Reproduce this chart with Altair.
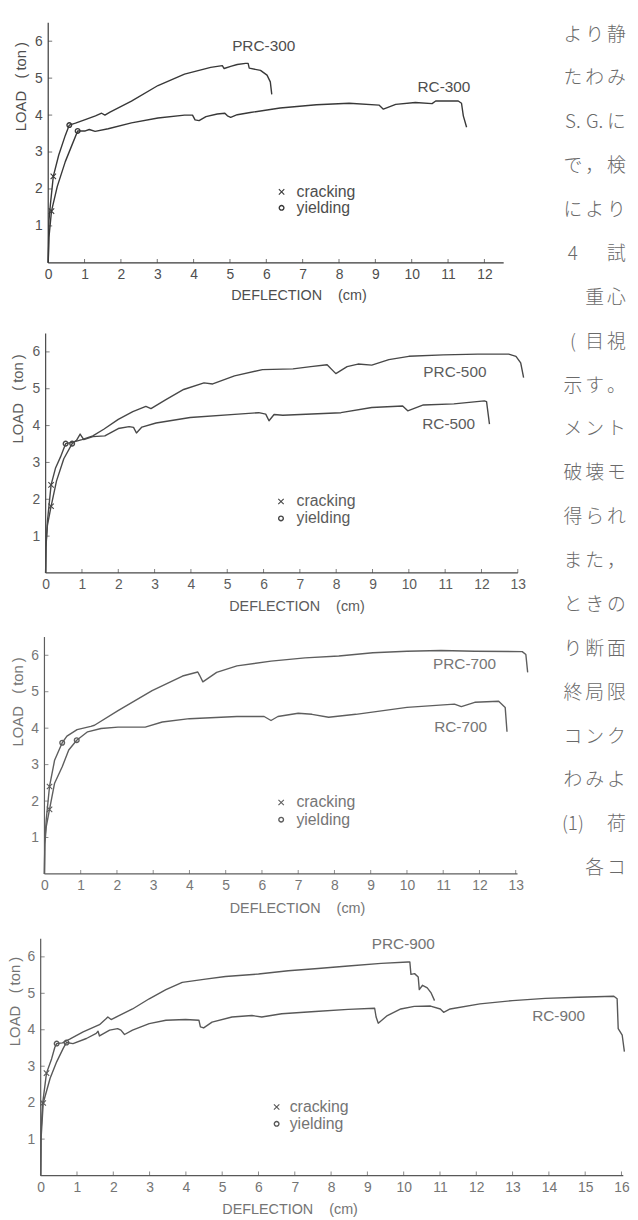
import altair as alt
import pandas as pd

FONT = "Liberation Sans"
JFONT = "Noto Sans CJK JP"

# ---------------- data ----------------
# Panel 1
prc300_x = [0, 0.02, 0.06, 0.14, 0.29, 0.47, 0.58, 0.75, 1.0, 1.3, 1.47, 1.56, 1.7, 2.29, 3.02, 3.75, 4.47, 4.79, 4.84, 5.02, 5.2, 5.43, 5.5, 5.53, 5.84, 6.02, 6.11, 6.15]
prc300_y = [0, 1.14, 1.58, 2.34, 2.92, 3.45, 3.73, 3.78, 3.87, 3.98, 4.05, 4.0, 4.08, 4.38, 4.8, 5.11, 5.29, 5.34, 5.26, 5.32, 5.37, 5.4, 5.4, 5.27, 5.21, 5.08, 4.9, 4.56]
rc300_x = [0, 0.02, 0.09, 0.25, 0.47, 0.65, 0.81, 1.02, 1.13, 1.29, 1.65, 2.29, 3.02, 3.75, 3.97, 4.04, 4.15, 4.34, 4.65, 4.86, 4.93, 5.02, 5.2, 5.56, 6.38, 7.38, 8.28, 9.1, 9.22, 9.56, 10.1, 10.56, 10.66, 11.28, 11.37, 11.42, 11.51]
rc300_y = [0, 0.69, 1.4, 2.07, 2.74, 3.18, 3.57, 3.57, 3.61, 3.56, 3.63, 3.79, 3.92, 4.0, 4.0, 3.87, 3.85, 3.96, 4.03, 4.05, 3.98, 3.94, 4.01, 4.07, 4.19, 4.28, 4.32, 4.27, 4.16, 4.29, 4.34, 4.31, 4.38, 4.38, 4.32, 3.98, 3.67]
crack300 = [(0.14, 2.34), (0.09, 1.4)]
yield300 = [(0.58, 3.73), (0.81, 3.57)]

# Panel 2
prc500_x = [0, 0.01, 0.05, 0.15, 0.27, 0.41, 0.55, 0.75, 1.0, 1.3, 1.6, 2.0, 2.4, 2.76, 2.9, 3.3, 3.8, 4.36, 4.6, 5.2, 5.97, 6.81, 7.3, 7.75, 7.99, 8.3, 8.6, 8.98, 9.45, 10.0, 10.95, 11.9, 12.75, 12.95, 13.08, 13.16]
prc500_y = [0, 0.69, 1.41, 2.39, 2.84, 3.15, 3.51, 3.55, 3.62, 3.72, 3.9, 4.17, 4.38, 4.52, 4.46, 4.7, 4.98, 5.16, 5.13, 5.35, 5.52, 5.54, 5.6, 5.65, 5.41, 5.6, 5.67, 5.64, 5.79, 5.88, 5.92, 5.94, 5.94, 5.88, 5.7, 5.3]
rc500_x = [0, 0.01, 0.05, 0.15, 0.3, 0.5, 0.73, 0.85, 0.95, 1.05, 1.3, 1.63, 2.0, 2.3, 2.42, 2.5, 2.65, 3.04, 3.98, 5.3, 5.87, 6.06, 6.15, 6.29, 6.53, 8.13, 8.98, 9.83, 9.97, 10.4, 11.24, 12.08, 12.14, 12.22]
rc500_y = [0, 0.8, 1.3, 1.81, 2.5, 3.1, 3.51, 3.6, 3.77, 3.62, 3.7, 3.72, 3.92, 3.97, 3.95, 3.8, 3.96, 4.07, 4.22, 4.31, 4.35, 4.31, 4.13, 4.3, 4.28, 4.35, 4.49, 4.53, 4.4, 4.56, 4.59, 4.67, 4.65, 4.04]
crack500 = [(0.15, 2.39), (0.15, 1.81)]
yield500 = [(0.55, 3.51), (0.73, 3.51)]

# Panel 3
prc700_x = [0, 0.01, 0.05, 0.14, 0.28, 0.49, 0.62, 0.9, 1.28, 1.38, 2.03, 2.97, 3.81, 4.23, 4.28, 4.37, 4.75, 5.31, 6.25, 7.19, 8.12, 9.06, 10.0, 10.94, 11.87, 13.18, 13.28, 13.33]
prc700_y = [0, 0.9, 1.5, 2.4, 3.12, 3.6, 3.78, 3.96, 4.05, 4.08, 4.48, 5.03, 5.43, 5.54, 5.45, 5.27, 5.53, 5.71, 5.84, 5.93, 5.98, 6.07, 6.11, 6.13, 6.11, 6.1, 6.02, 5.53]
rc700_x = [0, 0.01, 0.05, 0.14, 0.28, 0.49, 0.67, 0.89, 1.19, 1.56, 2.03, 2.78, 3.25, 4.0, 5.31, 6.06, 6.25, 6.44, 7.0, 7.38, 7.84, 8.59, 10.0, 11.31, 11.5, 11.87, 12.53, 12.71, 12.76]
rc700_y = [0, 0.8, 1.3, 1.77, 2.49, 2.94, 3.4, 3.67, 3.9, 3.99, 4.03, 4.03, 4.17, 4.26, 4.32, 4.32, 4.21, 4.32, 4.41, 4.38, 4.3, 4.38, 4.57, 4.66, 4.59, 4.71, 4.74, 4.57, 3.9]
crack700 = [(0.14, 2.4), (0.14, 1.77)]
yield700 = [(0.49, 3.6), (0.89, 3.67)]

# Panel 4
prc900_x = [0, 0.01, 0.05, 0.16, 0.3, 0.39, 0.44, 0.6, 0.8, 1.17, 1.62, 1.8, 1.85, 1.94, 2.53, 2.99, 3.45, 3.9, 4.54, 5.09, 6.0, 6.82, 7.64, 8.47, 9.38, 10.12, 10.17, 10.2, 10.3, 10.4, 10.43, 10.52, 10.65, 10.75, 10.85]
prc900_y = [0, 1.2, 1.95, 2.81, 3.2, 3.52, 3.62, 3.64, 3.74, 3.94, 4.14, 4.3, 4.35, 4.28, 4.57, 4.85, 5.1, 5.3, 5.39, 5.46, 5.53, 5.62, 5.68, 5.75, 5.82, 5.86, 5.86, 5.52, 5.54, 5.45, 5.1, 5.22, 5.15, 5.02, 4.8]
rc900_x = [0, 0.01, 0.07, 0.26, 0.44, 0.62, 0.71, 0.89, 1.26, 1.53, 1.58, 1.62, 1.9, 2.12, 2.21, 2.31, 2.53, 2.99, 3.45, 3.99, 4.36, 4.4, 4.49, 4.72, 5.27, 5.82, 6.09, 6.64, 7.56, 8.47, 9.2, 9.24, 9.3, 9.55, 9.92, 10.29, 10.74, 11.01, 11.1, 11.28, 12.1, 13.0, 13.9, 14.81, 15.79, 15.88, 15.91, 16.02, 16.08]
rc900_y = [0, 1.0, 1.99, 2.67, 3.12, 3.49, 3.65, 3.62, 3.76, 3.9, 3.96, 3.83, 3.99, 4.03, 3.99, 3.87, 3.99, 4.17, 4.26, 4.28, 4.26, 4.08, 4.05, 4.21, 4.35, 4.39, 4.35, 4.44, 4.5, 4.56, 4.59, 4.35, 4.18, 4.39, 4.57, 4.64, 4.65, 4.57, 4.48, 4.57, 4.71, 4.8, 4.86, 4.89, 4.92, 4.85, 4.03, 3.85, 3.4]
crack900 = [(0.16, 2.81), (0.07, 1.99)]
yield900 = [(0.44, 3.62), (0.71, 3.65)]

y_tick_labels = [1, 2, 3, 4, 5, 6]
x_title = "DEFLECTION\u00a0\u00a0\u00a0\u00a0(cm)"
y_title = "LOAD\u00a0\u00a0\u00a0(\u2009ton\u2009)"
legend_labels = ["cracking", "yielding"]

# Japanese body text in the right column (one list per printed line, 3 character cells)
jp_lines = [
    ["よ", "り", "静"], ["た", "わ", "み"], ["S.", "G.", "に"], ["で", "，", "検"],
    ["に", "よ", "り"], ["4", "", "試"], ["", "重", "心"], ["(", "目", "視"],
    ["示", "す", "。"], ["メ", "ン", "ト"], ["破", "壊", "モ"], ["得", "ら", "れ"],
    ["ま", "た", "，"], ["と", "き", "の"], ["り", "断", "面"], ["終", "局", "限"],
    ["コ", "ン", "ク"], ["わ", "み", "よ"], ["(1)", "", "荷"], ["", "各", "コ"],
]

CROSS = "M-1,-1L1,1M-1,1L1,-1"

panels = [
    dict(prc=(prc300_x, prc300_y), rc=(rc300_x, rc300_y), crack=crack300, yld=yield300,
         names=("PRC-300", "RC-300"), name_pos=[(5.06, 5.88), (10.16, 4.76)],
         leg=(6.42, 6.83, 1.92, 1.49), xend=12.53, nx=12, ux=36.7, uy=37.3, yoff=7.6,
         xt=(260.3, 33.5), yt=(-28, 64), color="#383838", tcolor="#4e4e4e"),
    dict(prc=(prc500_x, prc500_y), rc=(rc500_x, rc500_y), crack=crack500, yld=yield500,
         names=("PRC-500", "RC-500"), name_pos=[(10.4, 5.46), (10.37, 4.03)],
         leg=(6.48, 6.91, 1.94, 1.48), xend=13.0, nx=13, ux=36.67, uy=37.2, yoff=5.0,
         xt=(258.3, 34), yt=(-28, 65.5), color="#484848", tcolor="#5c5c5c"),
    dict(prc=(prc700_x, prc700_y), rc=(rc700_x, rc700_y), crack=crack700, yld=yield700,
         names=("PRC-700", "RC-700"), name_pos=[(10.72, 5.76), (10.75, 4.02)],
         leg=(6.53, 6.95, 1.96, 1.49), xend=13.05, nx=13, ux=36.6, uy=36.8, yoff=3.8,
         xt=(258.8, 35), yt=(-27, 65), color="#5e5e5e", tcolor="#767676"),
    dict(prc=(prc900_x, prc900_y), rc=(rc900_x, rc900_y), crack=crack900, yld=yield900,
         names=("PRC-900", "RC-900"), name_pos=[(9.12, 6.34), (13.54, 4.38)],
         leg=(6.5, 6.86, 1.88, 1.42), xend=16.05, nx=16, ux=36.65, uy=36.8, yoff=0.0,
         xt=(251.3, 34.7), yt=(-26, 63), color="#585858", tcolor="#747474"),
]


def build_panel(p):
    xmin = -p["yoff"] / p["ux"]
    xs = alt.Scale(domain=[xmin, p["xend"]], nice=False, zero=False)
    ys = alt.Scale(domain=[0, 6.5], nice=False, zero=False)
    c, tc = p["color"], p["tcolor"]

    curves = pd.concat([
        pd.DataFrame({"x": p["prc"][0], "y": p["prc"][1], "s": "PRC", "o": range(len(p["prc"][0]))}),
        pd.DataFrame({"x": p["rc"][0], "y": p["rc"][1], "s": "RC", "o": range(len(p["rc"][0]))}),
    ], ignore_index=True)

    xaxis = alt.Axis(values=list(range(0, p["nx"] + 1)), format="d", domain=False, ticks=False,
                     grid=False, labelFont=FONT, labelFontSize=14, labelColor=tc, labelPadding=5,
                     labelFlush=False, labelOverlap=False,
                     title=x_title, titleFont=FONT, titleFontSize=14.5, titleFontWeight="normal",
                     titleColor=tc, titleX=p["xt"][0], titleY=p["xt"][1], titleAlign="center",
                     titleBaseline="middle", titleAngle=0)
    yaxis = alt.Axis(values=y_tick_labels, format="d", domain=False, ticks=False, grid=False,
                     offset=-p["yoff"], labelFont=FONT, labelFontSize=14, labelColor=tc,
                     labelPadding=6, labelFlush=False, labelOverlap=False,
                     title=y_title, titleFont=FONT, titleFontSize=15, titleFontWeight="normal",
                     titleColor=tc, titleX=p["yt"][0], titleY=p["yt"][1], titleAlign="center",
                     titleBaseline="middle", titleAngle=270)

    def X(f):
        return alt.X(f, scale=xs, axis=xaxis)

    def Y(f):
        return alt.Y(f, scale=ys, axis=yaxis)

    lines = alt.Chart(curves).mark_line(color=c, strokeWidth=1.4, strokeJoin="round").encode(
        x=X("x:Q"), y=Y("y:Q"), detail="s:N", order="o:Q")

    axes_df = pd.DataFrame({"x": [0, 0], "x2": [p["xend"], 0], "y": [0, 0], "y2": [0, 6.5]})
    axes = alt.Chart(axes_df).mark_rule(color=c, strokeWidth=1.2).encode(
        x=X("x:Q"), x2="x2:Q", y=Y("y:Q"), y2="y2:Q")

    xt_df = pd.DataFrame({"x": list(range(1, p["nx"] + 1)), "y": 0})
    xticks = alt.Chart(xt_df).mark_tick(orient="vertical", size=4, thickness=1, color=c, yOffset=-2).encode(
        x=X("x:Q"), y=Y("y:Q"))
    yt_df = pd.DataFrame({"x": 0, "y": y_tick_labels})
    yticks = alt.Chart(yt_df).mark_tick(orient="horizontal", size=4, thickness=1, color=c, xOffset=2).encode(
        x=X("x:Q"), y=Y("y:Q"))

    lx_sym, lx_txt, ly_c, ly_y = p["leg"]
    cr_df = pd.DataFrame({"x": [q[0] for q in p["crack"]] + [lx_sym],
                          "y": [q[1] for q in p["crack"]] + [ly_c]})
    yl_df = pd.DataFrame({"x": [q[0] for q in p["yld"]] + [lx_sym],
                          "y": [q[1] for q in p["yld"]] + [ly_y]})
    cracks = alt.Chart(cr_df).mark_point(shape=CROSS, size=30, strokeWidth=1.1, filled=False, color=c, opacity=1).encode(
        x=X("x:Q"), y=Y("y:Q"))
    yields = alt.Chart(yl_df).mark_point(shape="circle", size=22, strokeWidth=1.4, filled=False, color=c, opacity=1).encode(
        x=X("x:Q"), y=Y("y:Q"))

    name_df = pd.DataFrame({"x": [q[0] for q in p["name_pos"]],
                            "y": [q[1] for q in p["name_pos"]],
                            "t": list(p["names"])})
    names = alt.Chart(name_df).mark_text(align="left", baseline="middle", font=FONT, fontSize=15.5, color=tc).encode(
        x=X("x:Q"), y=Y("y:Q"), text="t:N")
    leg_df = pd.DataFrame({"x": [lx_txt, lx_txt], "y": [ly_c, ly_y], "t": legend_labels})
    legend = alt.Chart(leg_df).mark_text(align="left", baseline="middle", font=FONT, fontSize=16, color=tc).encode(
        x=X("x:Q"), y=Y("y:Q"), text="t:N")

    w = (p["xend"] - xmin) * p["ux"]
    h = 6.5 * p["uy"]
    return alt.layer(lines, axes, xticks, yticks, cracks, yields, names, legend), w, h


built = [build_panel(p) for p in panels]

# right-hand column of body text, placed relative to panel 1's plot origin
P1_LEFT, P1_TOP = 41.7, 16.0
rows = []
for i, cells in enumerate(jp_lines):
    for j, ch in enumerate(cells):
        if ch:
            rows.append({"t": ch, "px": 579 + 22 * j - P1_LEFT, "py": 28 + 44.3 * i - P1_TOP})
jp_df = pd.DataFrame(rows)
jp_text = alt.Chart(jp_df).mark_text(align="center", baseline="middle", font=JFONT, fontSize=19,
                                     fontWeight=300, color="#6a6a6a").encode(
    x=alt.X("px:Q", scale=None, axis=None), y=alt.Y("py:Q", scale=None, axis=None), text="t:N")

p1_layer, w1, h1 = built[0]
p1 = alt.layer(p1_layer, jp_text).resolve_scale(x="independent", y="independent").properties(width=w1, height=h1)
p2 = built[1][0].properties(width=built[1][1], height=built[1][2])
p3 = built[2][0].properties(width=built[2][1], height=built[2][2])
p4 = built[3][0].properties(width=built[3][1], height=built[3][2])

lower = alt.vconcat(p2, p3, p4, spacing=64.5, bounds="flush")
chart = alt.vconcat(p1, lower, spacing=70.75, bounds="flush").properties(
    padding={"left": 0, "top": 8, "right": 0, "bottom": 0},
    background="white",
).configure_view(stroke=None)

chart.save("out.html", embed_options={"renderer": "svg", "actions": False})
